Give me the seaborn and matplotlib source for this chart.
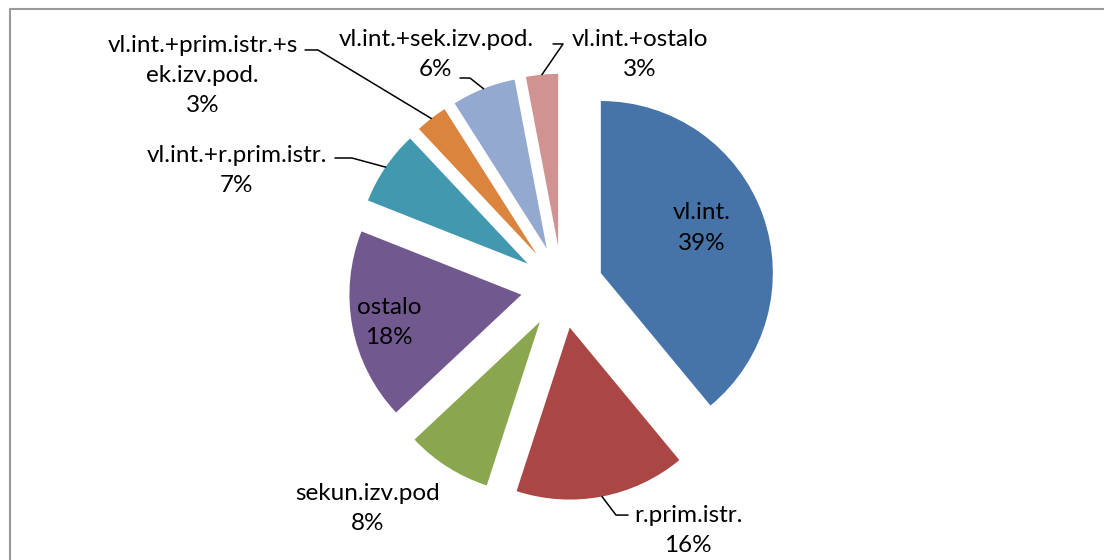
import numpy as np
import matplotlib
matplotlib.use("Agg")
import matplotlib.pyplot as plt
import seaborn as sns
from matplotlib.lines import Line2D

categories = ['vl.int.', 'r.prim.istr.', 'sekun.izv.pod', 'ostalo',
              'vl.int.+r.prim.istr.', 'vl.int.+prim.istr.+s\nek.izv.pod.',
              'vl.int.+sek.izv.pod.', 'vl.int.+ostalo']
shares = [39, 16, 8, 18, 7, 3, 6, 3]
colors = ['#4674A8', '#AA4644', '#8AA64F', '#71588F',
          '#4298AF', '#DB843D', '#93A9D0', '#D19392']

sns.set_theme(style='white')
plt.rcParams['font.family'] = ['Lato', 'DejaVu Sans']

fig = plt.figure(figsize=(11.04, 5.6), dpi=100)
ax = fig.add_axes([0, 0, 1, 1])

wedges, _ = ax.pie(shares, colors=sns.color_palette(colors), startangle=90,
                   counterclock=False, explode=[0.24] * len(shares),
                   wedgeprops=dict(linewidth=0))

# pixel scale: radius = 172 px, centre at (562, 287) from top-left
ax.set_aspect('auto')
ax.set_xlim(-562 / 172, (1104 - 562) / 172)
ax.set_ylim(-(560 - 287) / 172, 287 / 172)
ax.axis('off')

# label placement (data units) and optional leader line elbows
label_pos = [(0.814, 0.343), (0.733, -1.413), (-1.128, -1.285), (-1.006, -0.209),
             (-1.890, 0.680), (-2.090, 1.227), (-0.733, 1.349), (0.453, 1.349)]
leaders = {
    1: [(0.384, -1.326), (0.314, -1.326)],
    4: [(-1.320, 0.750), (-1.221, 0.750)],
    5: [(-1.494, 1.378), (-1.419, 1.378)],
    6: [(-0.593, 1.215), (-0.535, 1.215)],
    7: [(-0.052, 1.413), (0.006, 1.413)],
}

for i, (w, name, val) in enumerate(zip(wedges, categories, shares)):
    ax.text(*label_pos[i], f'{name}\n{val}%', ha='center', va='center',
            fontsize=17.5, linespacing=1.53, color='black')
    if i in leaders:
        mid = np.deg2rad((w.theta1 + w.theta2) / 2)
        cx, cy = w.center
        end = (cx + w.r * np.cos(mid), cy + w.r * np.sin(mid))
        pts = leaders[i] + [end]
        ax.plot([p[0] for p in pts], [p[1] for p in pts], color='black', lw=1.1)

# chart frame (only top and left edges are visible in the crop)
fig.add_artist(Line2D([10 / 1104, 1], [1 - 9 / 560] * 2, color='#9a9a9a', lw=1.5))
fig.add_artist(Line2D([10 / 1104] * 2, [0, 1 - 9 / 560], color='#9a9a9a', lw=1.5))

fig.savefig('out.png', dpi=100)
